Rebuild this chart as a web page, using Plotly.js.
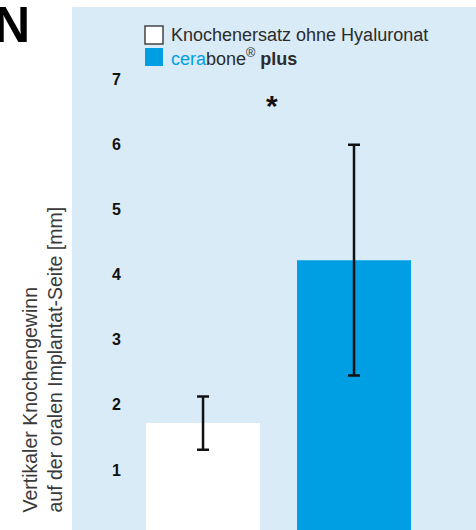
<!DOCTYPE html>
<html>
<head>
<meta charset="utf-8">
<script src="https://cdn.plot.ly/plotly-3.0.1.min.js"></script>
<style>html,body{margin:0;padding:0;background:#fff;}#chart{width:476px;height:530px;}</style>
</head>
<body>
<div id="chart"></div>
<script>
const categories = ['Knochenersatz ohne Hyaluronat', 'cerabone® plus'];
const legendLabels = ['Knochenersatz ohne Hyaluronat', '<span style="color:#00a0e3">cera</span>bone<sup>®</sup> <b>plus</b>'];
const means = [1.72, 4.22];
const errors = [0.41, 1.77];
const barColors = ['#ffffff', '#009fe3'];
const tickVals = [1, 2, 3, 4, 5, 6, 7];
const tickLabels = ['1', '2', '3', '4', '5', '6', '7'];
const yTitleLines = ['Vertikaler Knochengewinn', 'auf der oralen Implantat-Seite [mm]'];
const sigMark = '*';
const panelLetter = 'N';

const traces = categories.map((c, i) => ({
  type: 'bar',
  x: [c],
  y: [means[i]],
  width: 0.755,
  marker: {color: barColors[i], line: {width: 0}},
  error_y: {type: 'data', array: [errors[i]], visible: true, color: '#111', thickness: 2.5, width: 6},
  showlegend: false,
  hoverinfo: 'skip'
}));

const legendShapes = categories.map((c, i) => ({
  type: 'rect', xref: 'paper', yref: 'paper',
  x0: (145 - 72) / 404, x1: (163 - 72) / 404,
  y0: (530 - (44 + i * 22)) / 523, y1: (530 - (26 + i * 22)) / 523,
  fillcolor: barColors[i],
  line: {color: i === 0 ? '#444' : barColors[i], width: i === 0 ? 1.5 : 0}
}));

const legendAnnotations = categories.map((c, i) => ({
  xref: 'paper', yref: 'paper',
  x: (169 - 72) / 404, y: (530 - (35 + i * 22)) / 523,
  xanchor: 'left', yanchor: 'middle', showarrow: false,
  text: legendLabels[i],
  font: {family: 'Liberation Sans, Arial, sans-serif', size: 18, color: '#2b2b2b'}
}));

const layout = {
  width: 476, height: 530,
  margin: {l: 72, r: 0, t: 7, b: 0, pad: 0},
  paper_bgcolor: '#ffffff',
  plot_bgcolor: '#d9ebf7',
  barmode: 'overlay',
  showlegend: false,
  xaxis: {type: 'category', categoryorder: 'array', categoryarray: categories,
          range: [-0.868, 1.808], visible: false, fixedrange: true},
  yaxis: {range: [0.08, 8.105], tickvals: tickVals, ticktext: tickLabels.map(t => '<b>' + t + '</b>'),
          ticklabelposition: 'inside', ticklabelstandoff: 37, ticks: '',
          showgrid: false, zeroline: false, showline: false,
          tickfont: {family: 'Liberation Sans, Arial, sans-serif', size: 16, color: '#111'}},
  shapes: legendShapes,
  annotations: legendAnnotations.concat([
    {xref: 'paper', yref: 'paper', x: (41.5 - 72) / 404, y: (530 - 360) / 523,
     xanchor: 'center', yanchor: 'middle', showarrow: false, textangle: -90, align: 'left',
     text: yTitleLines.join('<br>'),
     font: {family: 'Liberation Sans, Arial, sans-serif', size: 19.5, color: '#3a3a3a'}},
    {xref: 'x', yref: 'y', x: 0.455, y: 6.6, xanchor: 'center', yanchor: 'middle', showarrow: false,
     text: '<b>' + sigMark + '</b>',
     font: {family: 'Liberation Sans, Arial, sans-serif', size: 30, color: '#111'}},
    {xref: 'paper', yref: 'paper', x: (-8 - 72) / 404, y: (530 + 5) / 523, xanchor: 'left', yanchor: 'top',
     showarrow: false, text: '<b>' + panelLetter + '</b>',
     font: {family: 'Liberation Sans, Arial, sans-serif', size: 50, color: '#000'}}
  ])
};

Plotly.newPlot('chart', traces, layout, {displayModeBar: false, staticPlot: true});
</script>
</body>
</html>
